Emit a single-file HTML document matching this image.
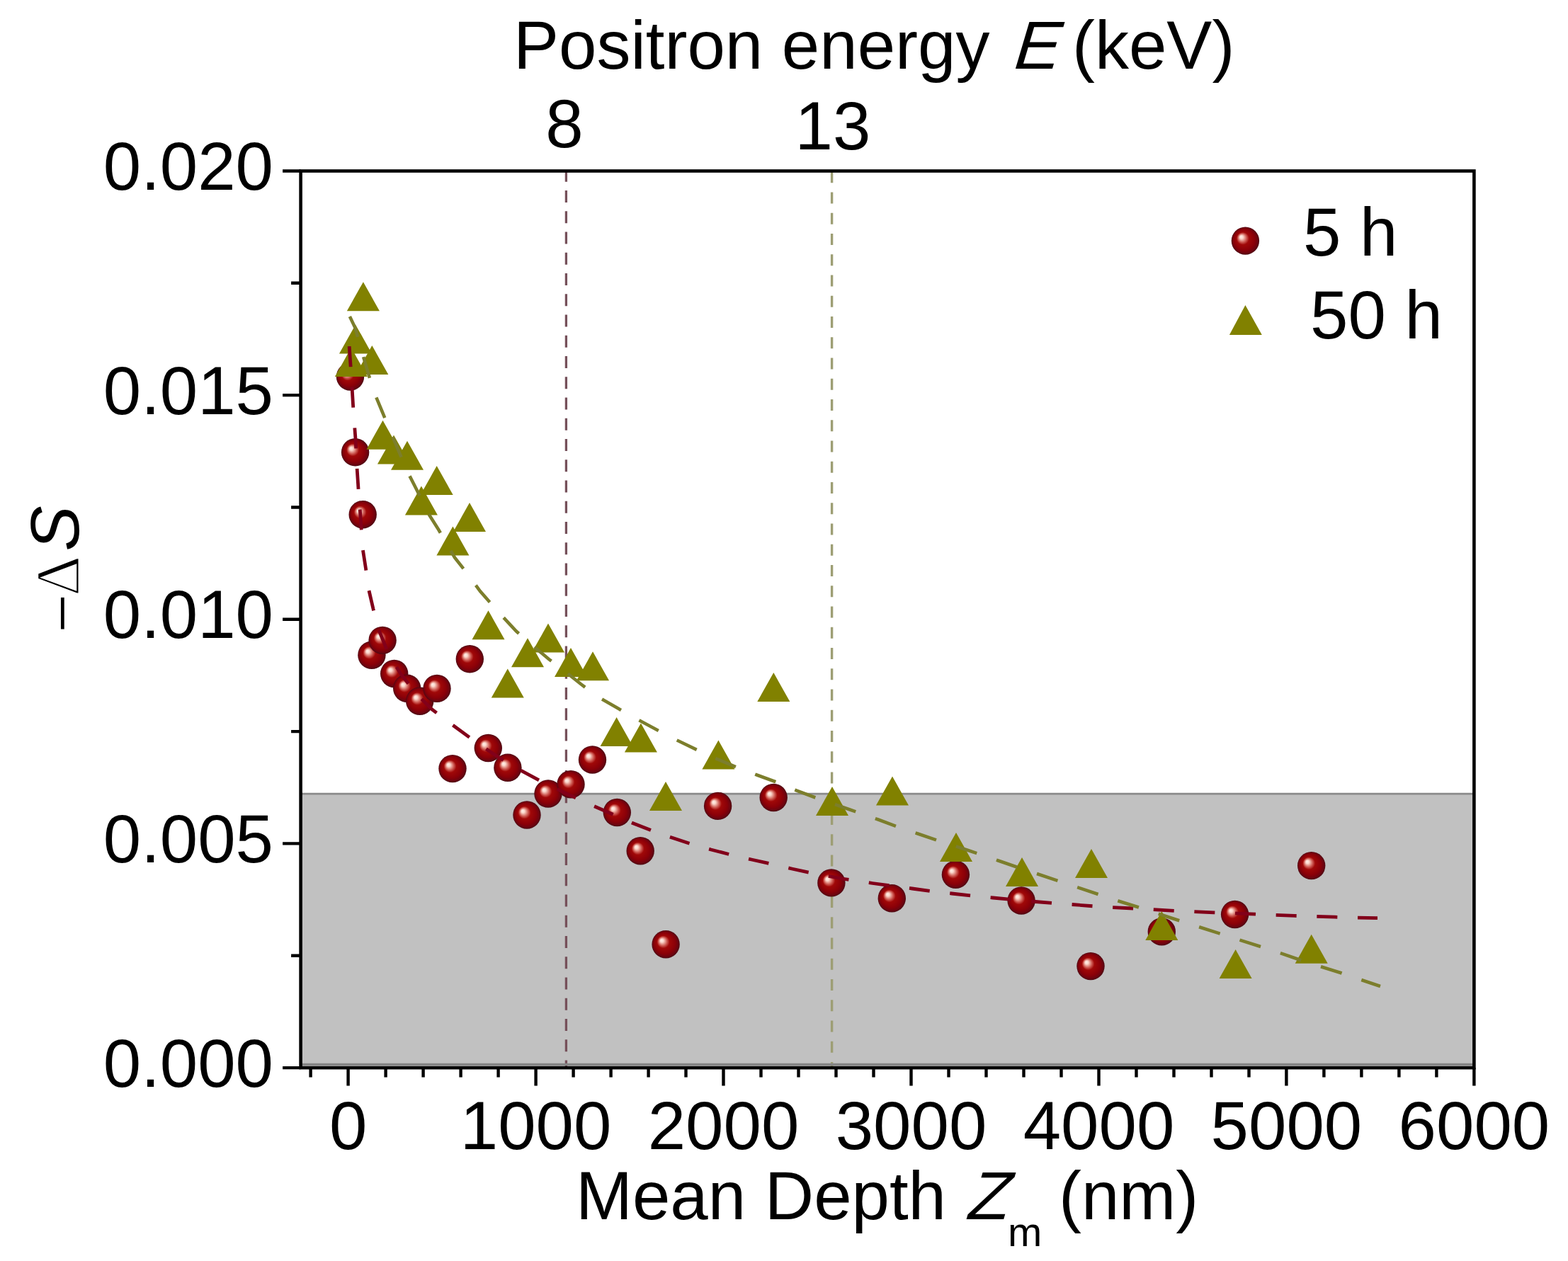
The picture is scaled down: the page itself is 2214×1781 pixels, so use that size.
<!DOCTYPE html><html><head><meta charset="utf-8"><title>Positron depth profile</title><style>
html,body{margin:0;padding:0;background:#fff;}body{width:2214px;height:1781px;overflow:hidden;}
svg{display:block;}
.t{font-family:"Liberation Sans",Arial,sans-serif;font-size:96px;fill:#000;}
</style></head><body>
<svg width="2214" height="1781" viewBox="0 0 2214 1781">
<defs>
<radialGradient id="ball" cx="0.5" cy="0.5" r="0.5" fx="0.34" fy="0.35"><stop offset="0" stop-color="#fff2ec"/><stop offset="0.12" stop-color="#fbd8cc"/><stop offset="0.3" stop-color="#d06058"/><stop offset="0.45" stop-color="#a00808"/><stop offset="0.75" stop-color="#8a0008"/><stop offset="0.92" stop-color="#6a0410"/><stop offset="1" stop-color="#4a0a12"/></radialGradient>
</defs>
<rect x="424.6" y="1121.2" width="1656.8000000000002" height="386.89999999999986" fill="#c1c1c1"/>
<line x1="799.4" y1="241.5" x2="799.4" y2="1508.1" stroke="#76505a" stroke-width="3.3" stroke-dasharray="17 12.25" stroke-dashoffset="-27.5"/>
<line x1="1174.6" y1="241.5" x2="1174.6" y2="1508.1" stroke="#9d9e74" stroke-width="3.4" stroke-dasharray="16 13.25" stroke-dashoffset="-30.1"/>
<line x1="424.6" y1="1121.2" x2="2081.4" y2="1121.2" stroke="#8a8a8a" stroke-width="2.8"/>
<line x1="424.6" y1="1503.4" x2="2081.4" y2="1503.4" stroke="#858585" stroke-width="3.2"/>
<circle cx="494.5" cy="532" r="19.7" fill="url(#ball)"/>
<circle cx="501.6" cy="638.8" r="19.7" fill="url(#ball)"/>
<circle cx="512.2" cy="726.7" r="19.7" fill="url(#ball)"/>
<circle cx="524.9" cy="925.2" r="19.7" fill="url(#ball)"/>
<circle cx="540.1" cy="904.4" r="19.7" fill="url(#ball)"/>
<circle cx="556.7" cy="951.5" r="19.7" fill="url(#ball)"/>
<circle cx="574.7" cy="972.2" r="19.7" fill="url(#ball)"/>
<circle cx="592.7" cy="990.2" r="19.7" fill="url(#ball)"/>
<circle cx="617" cy="972.4" r="19.7" fill="url(#ball)"/>
<circle cx="639" cy="1085.6" r="19.7" fill="url(#ball)"/>
<circle cx="663.3" cy="930.8" r="19.7" fill="url(#ball)"/>
<circle cx="689.3" cy="1056.5" r="19.7" fill="url(#ball)"/>
<circle cx="716.9" cy="1084.2" r="19.7" fill="url(#ball)"/>
<circle cx="744" cy="1151" r="19.7" fill="url(#ball)"/>
<circle cx="774" cy="1121" r="19.7" fill="url(#ball)"/>
<circle cx="806" cy="1107.8" r="19.7" fill="url(#ball)"/>
<circle cx="836.5" cy="1073" r="19.7" fill="url(#ball)"/>
<circle cx="871.3" cy="1147.5" r="19.7" fill="url(#ball)"/>
<circle cx="904.2" cy="1201.8" r="19.7" fill="url(#ball)"/>
<circle cx="940.1" cy="1333.7" r="19.7" fill="url(#ball)"/>
<circle cx="1013.6" cy="1138.4" r="19.7" fill="url(#ball)"/>
<circle cx="1092.2" cy="1126.5" r="19.7" fill="url(#ball)"/>
<circle cx="1173.9" cy="1246.9" r="19.7" fill="url(#ball)"/>
<circle cx="1259.3" cy="1268.7" r="19.7" fill="url(#ball)"/>
<circle cx="1349.4" cy="1235.3" r="19.7" fill="url(#ball)"/>
<circle cx="1442.1" cy="1272" r="19.7" fill="url(#ball)"/>
<circle cx="1540" cy="1364.6" r="19.7" fill="url(#ball)"/>
<circle cx="1640.3" cy="1315.9" r="19.7" fill="url(#ball)"/>
<circle cx="1743.6" cy="1291.5" r="19.7" fill="url(#ball)"/>
<circle cx="1851.7" cy="1222.6" r="19.7" fill="url(#ball)"/>
<polygon points="489.9,439.2 535.9,439.2 512.9,398.2" fill="#818100"/>
<polygon points="479.0,499.4 525.0,499.4 502.0,458.4" fill="#818100"/>
<polygon points="502.3,529.0 548.3,529.0 525.3,488.0" fill="#818100"/>
<polygon points="472.9,532.1 518.9,532.1 495.9,491.1" fill="#818100"/>
<polygon points="517.5,634.7 563.5,634.7 540.5,593.7" fill="#818100"/>
<polygon points="533.0,655.4 579.0,655.4 556.0,614.4" fill="#818100"/>
<polygon points="552.0,663.7 598.0,663.7 575.0,622.7" fill="#818100"/>
<polygon points="593.7,699.0 639.7,699.0 616.7,658.0" fill="#818100"/>
<polygon points="571.9,727.4 617.9,727.4 594.9,686.4" fill="#818100"/>
<polygon points="640.0,751.0 686.0,751.0 663.0,710.0" fill="#818100"/>
<polygon points="616.4,784.5 662.4,784.5 639.4,743.5" fill="#818100"/>
<polygon points="666.5,903.3 712.5,903.3 689.5,862.3" fill="#818100"/>
<polygon points="693.8,985.5 739.8,985.5 716.8,944.5" fill="#818100"/>
<polygon points="722.0,942.2 768.0,942.2 745.0,901.2" fill="#818100"/>
<polygon points="751.0,921.5 797.0,921.5 774.0,880.5" fill="#818100"/>
<polygon points="783.0,956.0 829.0,956.0 806.0,915.0" fill="#818100"/>
<polygon points="814.0,961.2 860.0,961.2 837.0,920.2" fill="#818100"/>
<polygon points="847.6,1054.0 893.6,1054.0 870.6,1013.0" fill="#818100"/>
<polygon points="881.9,1062.4 927.9,1062.4 904.9,1021.4" fill="#818100"/>
<polygon points="917.0,1145.0 963.0,1145.0 940.0,1104.0" fill="#818100"/>
<polygon points="991.4,1086.6 1037.4,1086.6 1014.4,1045.6" fill="#818100"/>
<polygon points="1069.3,991.0 1115.3,991.0 1092.3,950.0" fill="#818100"/>
<polygon points="1152.0,1152.0 1198.0,1152.0 1175.0,1111.0" fill="#818100"/>
<polygon points="1237.0,1137.6 1283.0,1137.6 1260.0,1096.6" fill="#818100"/>
<polygon points="1327.0,1217.0 1373.0,1217.0 1350.0,1176.0" fill="#818100"/>
<polygon points="1420.0,1252.0 1466.0,1252.0 1443.0,1211.0" fill="#818100"/>
<polygon points="1518.0,1240.0 1564.0,1240.0 1541.0,1199.0" fill="#818100"/>
<polygon points="1617.3,1328.0 1663.3,1328.0 1640.3,1287.0" fill="#818100"/>
<polygon points="1721.6,1382.0 1767.6,1382.0 1744.6,1341.0" fill="#818100"/>
<polygon points="1828.7,1360.7 1874.7,1360.7 1851.7,1319.7" fill="#818100"/>
<polyline points="493.0,487.0 496.0,530.0 499.0,580.0 502.0,620.0 504.0,660.0 506.0,690.0 509.0,730.0 512.0,774.0 516.5,803.0 520.5,832.0 527.0,860.0 535.0,890.0 548.0,922.0 566.0,952.0 588.0,980.0 610.0,1002.0 635.0,1021.0 665.0,1043.0 700.0,1067.0 735.0,1088.0 765.0,1104.0 800.0,1121.0 835.0,1137.0 865.0,1150.0 892.0,1162.0 919.0,1172.5 947.0,1182.5 976.0,1192.0 1004.0,1200.0 1033.0,1207.5 1061.0,1214.0 1090.0,1220.5 1118.0,1227.0 1146.0,1233.0 1189.0,1241.0 1232.0,1247.5 1265.0,1252.0 1288.0,1255.0 1317.0,1259.0 1344.0,1262.0 1373.0,1265.2 1402.0,1268.0 1430.0,1270.5 1462.0,1273.5 1487.0,1275.5 1514.0,1277.5 1543.0,1279.8 1571.0,1281.6 1600.0,1283.0 1628.0,1284.6 1658.0,1286.3 1685.0,1287.6 1714.0,1288.8 1766.0,1290.8 1798.0,1292.3 1828.0,1293.4 1855.0,1294.3 1885.0,1295.2 1912.0,1296.0 1945.0,1296.6" fill="none" stroke="#82001a" stroke-width="4.8" stroke-dasharray="29 28.7" stroke-dashoffset="-2.2"/>
<polyline points="490.0,439.0 501.5,463.0 514.0,507.0 527.0,551.0 539.5,581.0 557.0,623.0 575.0,665.5 588.0,691.0 604.0,724.0 619.5,748.5 642.0,787.5 657.0,806.5 678.0,835.0 702.0,862.5 729.0,891.5 750.5,910.5 775.0,931.0 800.0,950.0 820.0,966.0 843.0,983.5 871.0,999.5 899.0,1015.5 927.0,1030.5 956.0,1045.5 984.0,1059.0 1010.0,1071.0 1040.0,1083.5 1070.0,1095.0 1100.0,1106.0 1122.0,1115.5 1154.0,1127.5 1200.0,1143.5 1240.0,1157.5 1268.0,1168.0 1296.0,1177.5 1324.0,1187.0 1367.0,1201.0 1409.5,1215.5 1437.0,1225.0 1465.5,1234.5 1495.5,1244.5 1520.6,1253.0 1552.0,1263.5 1579.0,1272.5 1608.0,1281.5 1646.0,1294.0 1666.0,1300.5 1694.0,1309.5 1724.0,1319.0 1750.0,1327.5 1780.0,1337.0 1806.0,1345.5 1835.0,1355.5 1864.0,1365.0 1893.0,1374.0 1918.0,1382.5 1949.0,1393.0" fill="none" stroke="#7c7e2c" stroke-width="4.6" stroke-dasharray="31 29.28" stroke-dashoffset="-9.0"/>
<rect x="424.6" y="241.5" width="1656.8000000000002" height="1266.6" fill="none" stroke="#000" stroke-width="4.6"/>
<path d="M399.1,1508.1H424.6 M399.1,1191.4H424.6 M399.1,874.8H424.6 M399.1,558.1H424.6 M399.1,241.5H424.6 M411.1,1349.8H424.6 M411.1,1033.1H424.6 M411.1,716.5H424.6 M411.1,399.8H424.6 M438.6,1508.1V1521.6 M491.6,1508.1V1533.6 M544.6,1508.1V1521.6 M597.6,1508.1V1521.6 M650.6,1508.1V1521.6 M703.6,1508.1V1521.6 M756.6,1508.1V1533.6 M809.6,1508.1V1521.6 M862.6,1508.1V1521.6 M915.6,1508.1V1521.6 M968.5,1508.1V1521.6 M1021.5,1508.1V1533.6 M1074.5,1508.1V1521.6 M1127.5,1508.1V1521.6 M1180.5,1508.1V1521.6 M1233.5,1508.1V1521.6 M1286.5,1508.1V1533.6 M1339.5,1508.1V1521.6 M1392.5,1508.1V1521.6 M1445.5,1508.1V1521.6 M1498.5,1508.1V1521.6 M1551.5,1508.1V1533.6 M1604.5,1508.1V1521.6 M1657.5,1508.1V1521.6 M1710.5,1508.1V1521.6 M1763.5,1508.1V1521.6 M1816.4,1508.1V1533.6 M1869.4,1508.1V1521.6 M1922.4,1508.1V1521.6 M1975.4,1508.1V1521.6 M2028.4,1508.1V1521.6 M2081.4,1508.1V1533.6" stroke="#000" stroke-width="4.4" fill="none"/>
<text class="t" x="386" y="1534.6" text-anchor="end">0.000</text>
<text class="t" x="386" y="1217.9" text-anchor="end">0.005</text>
<text class="t" x="386" y="901.3" text-anchor="end">0.010</text>
<text class="t" x="386" y="584.6" text-anchor="end">0.015</text>
<text class="t" x="386" y="268.0" text-anchor="end">0.020</text>
<text class="t" x="491.6" y="1623" text-anchor="middle">0</text>
<text class="t" x="756.6" y="1623" text-anchor="middle">1000</text>
<text class="t" x="1021.5" y="1623" text-anchor="middle">2000</text>
<text class="t" x="1286.5" y="1623" text-anchor="middle">3000</text>
<text class="t" x="1551.5" y="1623" text-anchor="middle">4000</text>
<text class="t" x="1816.4" y="1623" text-anchor="middle">5000</text>
<text class="t" x="2081.4" y="1623" text-anchor="middle">6000</text>
<text class="t" x="797" y="208" text-anchor="middle">8</text>
<text class="t" x="1176" y="211" text-anchor="middle">13</text>
<text class="t" x="725" y="97">Positron energy</text>
<text class="t" transform="translate(1426,97) skewX(-16.5)" x="0" y="0">E</text>
<text class="t" x="1514" y="97">(keV)</text>
<text class="t" x="813" y="1722">Mean Depth</text>
<text class="t" transform="translate(1361.5,1722) skewX(-16.5)" x="0" y="0">Z</text>
<text class="t" x="1423" y="1760" style="font-size:58px">m</text>
<text class="t" x="1495" y="1722">(nm)</text>
<g transform="translate(111,890) rotate(-90)"><text x="-3.5" y="8.5" style="font-family:'Liberation Serif',serif;font-size:96px">−</text><text x="48" y="0" stroke="#fff" stroke-width="2.4" style="font-family:'Liberation Serif',serif;font-size:89px">Δ</text><text class="t" x="111.5" y="0" font-style="italic">S</text></g>
<circle cx="1758.4" cy="340.1" r="19.7" fill="url(#ball)"/>
<polygon points="1735.9,472.9 1781.8,472.9 1758.4,431.1" fill="#818100"/>
<text class="t" x="1840" y="361">5 h</text>
<text class="t" x="1850" y="478">50 h</text>
</svg></body></html>
